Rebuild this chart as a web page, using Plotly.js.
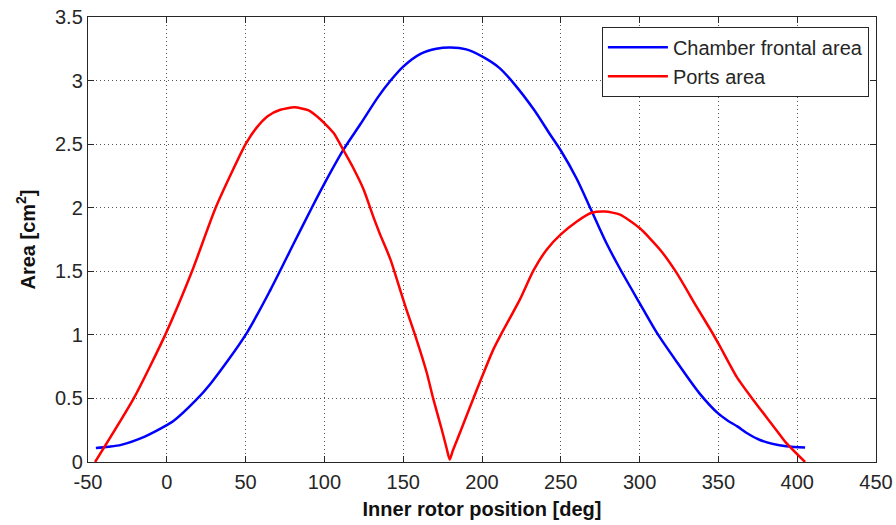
<!DOCTYPE html>
<html>
<head>
<meta charset="utf-8">
<script src="https://cdn.plot.ly/plotly-3.0.1.min.js"></script>
<style>
  html, body { margin: 0; padding: 0; background: #fff; }
  #chart { width: 896px; height: 525px; }
</style>
</head>
<body>
<div id="chart"></div>
<script>
// Chamber frontal area versus inner rotor position
var chamberPos = [-45, -37, -29, -14, 0, 4, 18, 28, 50, 66, 81, 92, 100, 112, 123, 134, 142, 150, 161, 171, 180,
                  190, 200, 211, 220, 233, 243, 250, 260, 269, 279, 288, 300, 311, 324, 338, 350, 356, 362, 368, 376, 393, 405];
var chamberArea = [0.11, 0.12, 0.135, 0.2, 0.29, 0.32, 0.48, 0.62, 1.0, 1.36, 1.73, 2.0, 2.19, 2.455, 2.66, 2.87, 3.0, 3.11, 3.21, 3.25, 3.26,
                   3.245, 3.19, 3.10, 2.98, 2.77, 2.58, 2.45, 2.23, 1.99, 1.72, 1.51, 1.25, 1.015, 0.78, 0.54, 0.38, 0.325, 0.28, 0.228, 0.175, 0.123, 0.115];

// Ports area versus inner rotor position
var portsPos = [-45.5, -21, -1, 16, 31, 50, 57, 64, 72, 81, 90, 97, 102, 106, 112, 118, 125, 131, 135, 142, 148, 152, 157.5, 165, 169, 174.5, 177.5, 179.5,
                181.5, 186, 194.5, 200, 207, 211.5, 224, 232.6, 241, 250, 260, 269.6, 278, 287.6, 300, 313, 323.5, 336, 345, 351, 361.6, 372, 385, 393, 405];
var portsArea = [0, 0.5, 1.0, 1.5, 2.0, 2.5, 2.63, 2.72, 2.77, 2.79, 2.765, 2.70, 2.64, 2.585, 2.455, 2.32, 2.14, 1.93, 1.80, 1.59, 1.356, 1.2, 1.0, 0.7, 0.5, 0.254, 0.11, 0.02,
                 0.09, 0.23, 0.5, 0.67, 0.88, 0.99, 1.277, 1.505, 1.67, 1.79, 1.89, 1.96, 1.97, 1.946, 1.84, 1.67, 1.487, 1.224, 1.04, 0.91, 0.67, 0.49, 0.28, 0.15, 0];

var seriesNames = ['Chamber frontal area', 'Ports area'];
var xTickVals = [-50, 0, 50, 100, 150, 200, 250, 300, 350, 400, 450];
var xTickText = ['-50', '0', '50', '100', '150', '200', '250', '300', '350', '400', '450'];
var yTickVals = [0, 0.5, 1, 1.5, 2, 2.5, 3, 3.5];
var yTickText = ['0', '0.5', '1', '1.5', '2', '2.5', '3', '3.5'];

var traces = [
  { x: chamberPos, y: chamberArea, name: seriesNames[0], type: 'scatter', mode: 'lines',
    line: { color: '#0000ff', width: 2.5, shape: 'spline', smoothing: 0.8 } },
  { x: portsPos, y: portsArea, name: seriesNames[1], type: 'scatter', mode: 'lines',
    line: { color: '#ff0000', width: 2.5, shape: 'spline', smoothing: 0.6 } }
];

var axisCommon = {
  showline: true, mirror: 'ticks', linecolor: '#262626', linewidth: 1.2,
  ticks: 'inside', ticklen: 6, tickcolor: '#262626', tickwidth: 1,
  showgrid: true, gridcolor: '#555', gridwidth: 1, griddash: '1px,3px',
  zeroline: false,
  tickfont: { family: 'Liberation Sans, Arial, sans-serif', size: 20, color: '#262626' }
};

var layout = {
  width: 896, height: 525,
  margin: { l: 88, r: 20, t: 17, b: 63 },
  paper_bgcolor: '#fff', plot_bgcolor: '#fff',
  showlegend: true,
  legend: {
    x: 0.991, y: 0.978, xanchor: 'right', yanchor: 'top',
    bgcolor: '#fff', bordercolor: '#262626', borderwidth: 1,
    itemwidth: 60,
    font: { family: 'Liberation Sans, Arial, sans-serif', size: 20, color: '#262626' },
    tracegroupgap: 0
  },
  xaxis: Object.assign({}, axisCommon, {
    range: [-50, 450], tickmode: 'array', tickvals: xTickVals, ticktext: xTickText,
    ticklabelstandoff: 2,
    title: { text: 'Inner rotor position [deg]', standoff: 9,
             font: { family: 'Liberation Sans, Arial, sans-serif', size: 20, color: '#111', weight: 'bold' } }
  }),
  yaxis: Object.assign({}, axisCommon, {
    range: [0, 3.5], tickmode: 'array', tickvals: yTickVals, ticktext: yTickText,
    title: { text: 'Area [cm<sup>2</sup>]', standoff: 14,
             font: { family: 'Liberation Sans, Arial, sans-serif', size: 20, color: '#111', weight: 'bold' } }
  })
};

Plotly.newPlot('chart', traces, layout, { displayModeBar: false, staticPlot: true });
</script>
</body>
</html>
